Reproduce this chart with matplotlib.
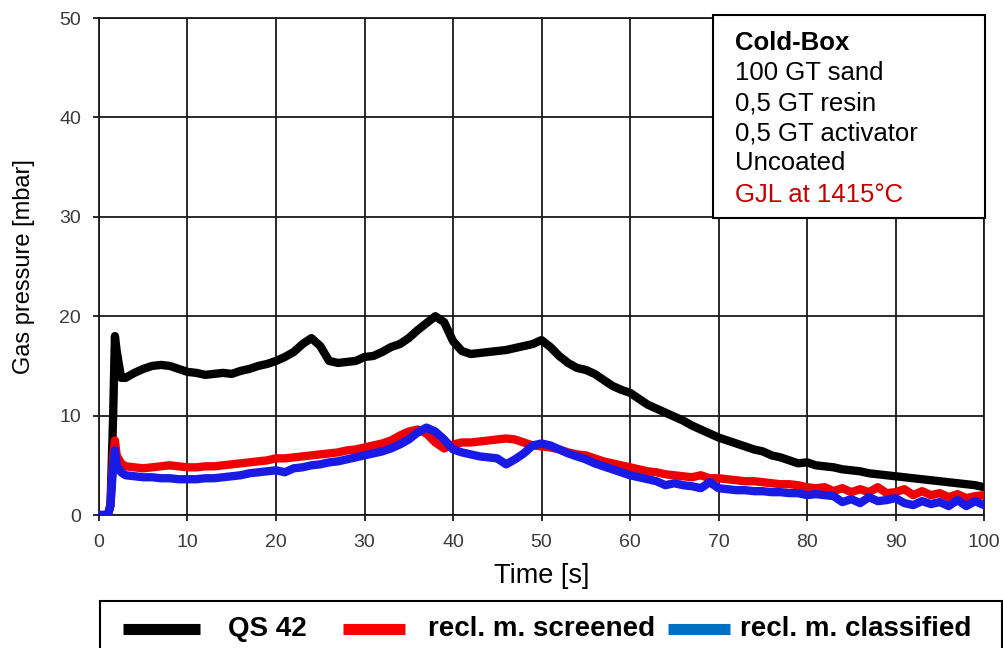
#!/usr/bin/env python3
"""Gas pressure curves: cold-box cores, new sand vs reclaimed material."""

import matplotlib
matplotlib.use('Agg')
import matplotlib.pyplot as plt
from matplotlib.lines import Line2D
from matplotlib.patches import Rectangle

plt.rcParams['font.family'] = ['Liberation Sans', 'DejaVu Sans']

# Time axis [s] (shared by all three series)
time_s = [0, 1, 1.3, 1.6, 1.8, 2.0, 2.5] + list(range(3, 101))

# QS 42 (new sand)
qs42 = [0, 0, 1, 10, 18, 16.5, 13.8,
        13.8, 14.3, 14.7, 15.0, 15.1, 15.0, 14.7, 14.4, 14.3, 14.1,
        14.2, 14.3, 14.2, 14.5, 14.7, 15.0, 15.2, 15.5, 15.9, 16.4,
        17.2, 17.8, 17.0, 15.5, 15.3, 15.4, 15.5, 15.9, 16.0, 16.4,
        16.9, 17.2, 17.8, 18.6, 19.3, 20.0, 19.4, 17.5, 16.5, 16.2,
        16.3, 16.4, 16.5, 16.6, 16.8, 17.0, 17.2, 17.6, 16.9, 16.0,
        15.3, 14.8, 14.6, 14.2, 13.6, 13.0, 12.6, 12.3, 11.7, 11.1,
        10.7, 10.3, 9.9, 9.5, 9.0, 8.6, 8.2, 7.8, 7.5, 7.2,
        6.9, 6.6, 6.4, 6.0, 5.8, 5.5, 5.2, 5.3, 5.0, 4.9,
        4.8, 4.6, 4.5, 4.4, 4.2, 4.1, 4.0, 3.9, 3.8, 3.7,
        3.6, 3.5, 3.4, 3.3, 3.2, 3.1, 3.0, 2.8]

# reclaimed material, screened
screened = [0, 0, 1, 6, 7.5, 6.0, 5.2,
            4.9, 4.8, 4.7, 4.8, 4.9, 5.0, 4.9, 4.8, 4.8, 4.9,
            4.9, 5.0, 5.1, 5.2, 5.3, 5.4, 5.5, 5.7, 5.7, 5.8,
            5.9, 6.0, 6.1, 6.2, 6.3, 6.5, 6.6, 6.8, 7.0, 7.2,
            7.5, 8.0, 8.4, 8.6, 8.2, 7.3, 6.7, 7.1, 7.3, 7.3,
            7.4, 7.5, 7.6, 7.7, 7.6, 7.3, 7.0, 6.9, 6.8, 6.6,
            6.3, 6.1, 6.0, 5.7, 5.4, 5.2, 5.0, 4.8, 4.6, 4.4,
            4.3, 4.1, 4.0, 3.9, 3.8, 4.0, 3.7, 3.7, 3.6, 3.5,
            3.4, 3.4, 3.3, 3.2, 3.1, 3.1, 3.0, 2.8, 2.7, 2.8,
            2.4, 2.7, 2.3, 2.6, 2.3, 2.8, 2.2, 2.3, 2.6, 2.0,
            2.4, 2.0, 2.2, 1.8, 2.1, 1.7, 1.9, 2.0]

# reclaimed material, classified
classified = [0, 0, 1, 5, 6.5, 5.0, 4.3,
              4.0, 3.9, 3.8, 3.8, 3.7, 3.7, 3.6, 3.6, 3.6, 3.7,
              3.7, 3.8, 3.9, 4.0, 4.2, 4.3, 4.4, 4.5, 4.3, 4.7,
              4.8, 5.0, 5.1, 5.3, 5.4, 5.6, 5.8, 6.0, 6.2, 6.4,
              6.7, 7.1, 7.6, 8.3, 8.8, 8.4, 7.6, 6.6, 6.3, 6.1,
              5.9, 5.8, 5.7, 5.1, 5.6, 6.2, 7.0, 7.2, 7.0, 6.6,
              6.2, 5.9, 5.6, 5.2, 4.9, 4.6, 4.3, 4.0, 3.8, 3.6,
              3.4, 3.0, 3.2, 3.0, 2.9, 2.7, 3.3, 2.7, 2.6, 2.5,
              2.5, 2.4, 2.4, 2.3, 2.3, 2.2, 2.2, 2.0, 2.1, 2.0,
              1.9, 1.3, 1.6, 1.2, 1.8, 1.4, 1.5, 1.7, 1.2, 1.0,
              1.4, 1.1, 1.3, 0.9, 1.5, 0.9, 1.4, 1.0]

info_lines = ["100 GT sand", "0,5 GT resin", "0,5 GT activator", "Uncoated"]
legend_labels = ["QS 42", "recl. m. screened", "recl. m. classified"]
legend_colors = ['#000000', '#ff0000', '#0070c0']

fig = plt.figure(figsize=(10.04, 6.48), dpi=100)
ax = fig.add_axes([0.0986, 0.2052, 0.8815, 0.7670])

ax.plot(time_s, qs42, color='#000000', linewidth=6, solid_joinstyle='round', zorder=3)
ax.plot(time_s, screened, color='#ee0000', linewidth=6, solid_joinstyle='round', zorder=4)
ax.plot(time_s, classified, color='#1a1ae6', linewidth=6, solid_joinstyle='round', zorder=5)

ax.set_xlim(0, 100)
ax.set_ylim(0, 50)
ax.set_xticks(range(0, 101, 10))
ax.set_yticks(range(0, 51, 10))
ax.grid(True, color='#1a1a1a', linewidth=1.3)
ax.set_axisbelow(True)
for s in ax.spines.values():
    s.set_color('#1a1a1a')
    s.set_linewidth(1.3)
ax.tick_params(colors='#1a1a1a', labelcolor='#3a3a3a', labelsize=14,
               length=4, width=1.3)
ax.tick_params(axis='y', pad=9)
ax.tick_params(axis='x', pad=10)

ax.set_xlabel('Time [s]', fontsize=19.5, labelpad=8)
ax.set_ylabel('Gas pressure [mbar]', fontsize=17, labelpad=17)

# Info box top right
fig.patches.append(Rectangle((713 / 1004, 1 - 218 / 648), 272 / 1004, 203 / 648,
                             transform=fig.transFigure, facecolor='white',
                             edgecolor='black', linewidth=1.5, zorder=10))
x0 = 735 / 1004
fig.text(x0, 1 - 43 / 648, "Cold-Box", fontsize=18.5, fontweight='bold',
         va='center', zorder=11)
for i, line in enumerate(info_lines):
    fig.text(x0, 1 - (73 + 30 * i) / 648, line, fontsize=18.5, va='center', zorder=11)
fig.text(x0, 1 - 195 / 648, "GJL at 1415°C", fontsize=18.5, color='#c00000',
         va='center', zorder=11)

# Legend box at the bottom, running off the image edge
fig.patches.append(Rectangle((100 / 1004, -0.05), 902 / 1004, 0.05 + 47 / 648,
                             transform=fig.transFigure, facecolor='white',
                             edgecolor='black', linewidth=1.5, clip_on=False))
key_spans = [(123, 200), (343, 405), (668, 730)]
text_x = [228, 428, 740]
ly = 1 - 629 / 648
for (k0, k1), tx, lab, col in zip(key_spans, text_x, legend_labels, legend_colors):
    fig.add_artist(Line2D([k0 / 1004, k1 / 1004], [ly, ly], color=col, linewidth=8,
                          solid_capstyle='butt', transform=fig.transFigure))
    fig.text(tx / 1004, ly, lab, fontsize=20, fontweight='bold', va='center')

plt.savefig('out.png', dpi=100)
plt.close()
